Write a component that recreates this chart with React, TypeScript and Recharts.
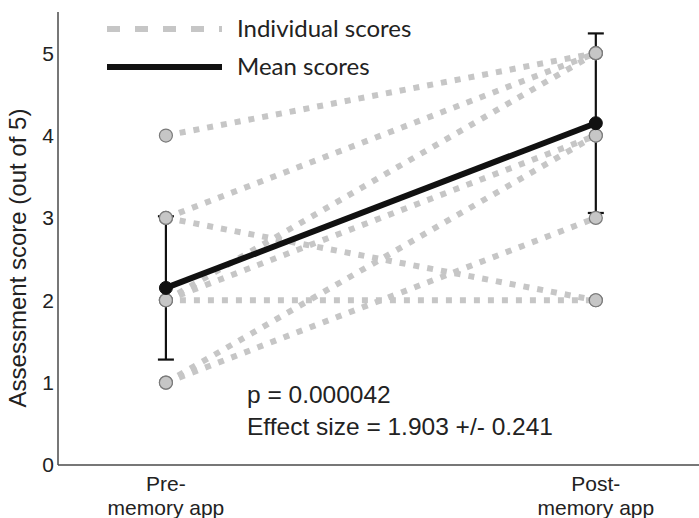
import { ComposedChart, Line, Scatter, XAxis, YAxis, ErrorBar } from 'recharts'

// Individual student scores, paired pre -> post
const preScores = [4, 3, 3, 2, 2, 2, 1, 1]
const postScores = [5, 5, 2, 5, 4, 2, 4, 3]

// Group means and spread (error bars)
const meanScores = [2.15, 4.15]
const meanError = [0.87, 1.09]

const timepoints = ['Pre-\nmemory app', 'Post-\nmemory app']
const yTicks = [0, 1, 2, 3, 4, 5]

const pValueText = 'p = 0.000042'
const effectText = 'Effect size = 1.903 +/- 0.241'

const pairs = preScores.map((pre, i) => [
  { x: 0, y: pre },
  { x: 1, y: postScores[i] },
])
const dots = pairs.flat()
const meanData = meanScores.map((m, i) => ({ x: i, y: m, err: meanError[i] }))

const GRAY = '#c6c6c6'
const ARIAL = '"Liberation Sans", Arial, sans-serif'

const XTick = ({ x, y, payload }: any) => {
  const lines = (timepoints[payload.value] ?? '').split('\n')
  return (
    <text x={x} y={y} textAnchor="middle" fontSize={21} fill="#222" fontFamily={ARIAL}>
      {lines.map((l, i) => (
        <tspan key={i} x={x} dy={i === 0 ? 18 : 24}>{l}</tspan>
      ))}
    </text>
  )
}

const GrayDot = ({ cx, cy }: any) => (
  <circle cx={cx} cy={cy} r={6.5} fill={GRAY} stroke="#7a7a7a" strokeWidth={1.2} />
)

// legend drawn as an overlay so it doesn't shift the plot area
const LegendBox = () => (
  <svg width={330} height={90} style={{ position: 'absolute', left: 105, top: 8 }}>
    <line x1={2} y1={21} x2={117} y2={21} stroke={GRAY} strokeWidth={6} strokeDasharray="13 15" />
    <line x1={2} y1={59} x2={117} y2={59} stroke="#111" strokeWidth={6} />
    <text x={132} y={21} dy="0.35em" fontSize={24} fill="#222" fontFamily="Lato, sans-serif">Individual scores</text>
    <text x={132} y={59} dy="0.35em" fontSize={24} fill="#222" fontFamily="Lato, sans-serif">Mean scores</text>
  </svg>
)

export default function App() {
  return (
    <div style={{ position: 'fixed', left: 0, top: 0, width: 699, height: 518, background: '#fff', overflow: 'hidden' }}>
      <ComposedChart width={699} height={518} margin={{ top: 12, right: 0, bottom: 0, left: 0 }}>
        <XAxis
          type="number"
          dataKey="x"
          domain={[-0.251, 1.24]}
          ticks={[0, 1]}
          tick={<XTick />}
          tickLine={false}
          height={53}
          axisLine={{ stroke: '#4a4a4a', strokeWidth: 1.5 }}
          allowDataOverflow
        />
        <YAxis
          type="number"
          dataKey="y"
          domain={[0, 5.5]}
          ticks={yTicks}
          width={58}
          tickLine={false}
          tickSize={2}
          tickMargin={2}
          axisLine={{ stroke: '#4a4a4a', strokeWidth: 1.5 }}
          tick={{ fontSize: 21, fill: '#222', fontFamily: ARIAL }}
          label={{
            content: () => (
              <text
                x={17}
                y={258}
                transform="rotate(-90, 17, 258)"
                textAnchor="middle"
                dominantBaseline="central"
                fontSize={24}
                fill="#222"
                fontFamily={ARIAL}
              >
                Assessment score (out of 5)
              </text>
            ),
          }}
        />
        {pairs.map((p, i) => (
          <Line
            key={i}
            data={p}
            dataKey="y"
            stroke={GRAY}
            strokeWidth={6}
            strokeDasharray="6 8"
            dot={false}
            activeDot={false}
            legendType="none"
            isAnimationActive={false}
          />
        ))}
        <Scatter data={dots} dataKey="y" shape={<GrayDot />} legendType="none" isAnimationActive={false} />
        <Line
          data={meanData}
          dataKey="y"
          stroke="#111"
          strokeWidth={6}
          dot={{ r: 6.5, fill: '#111', stroke: '#111', strokeWidth: 1 }}
          activeDot={false}
          legendType="none"
          isAnimationActive={false}
        >
          <ErrorBar dataKey="err" direction="y" width={8} stroke="#111" strokeWidth={2.2} />
        </Line>
      </ComposedChart>
      <LegendBox />
      <div style={{ position: 'absolute', left: 247, top: 381, fontFamily: ARIAL, fontSize: 24.5, color: '#222', lineHeight: '28px' }}>
        {pValueText}
      </div>
      <div style={{ position: 'absolute', left: 247, top: 413, fontFamily: ARIAL, fontSize: 24.5, color: '#222', lineHeight: '28px', whiteSpace: 'nowrap' }}>
        {effectText}
      </div>
    </div>
  )
}
